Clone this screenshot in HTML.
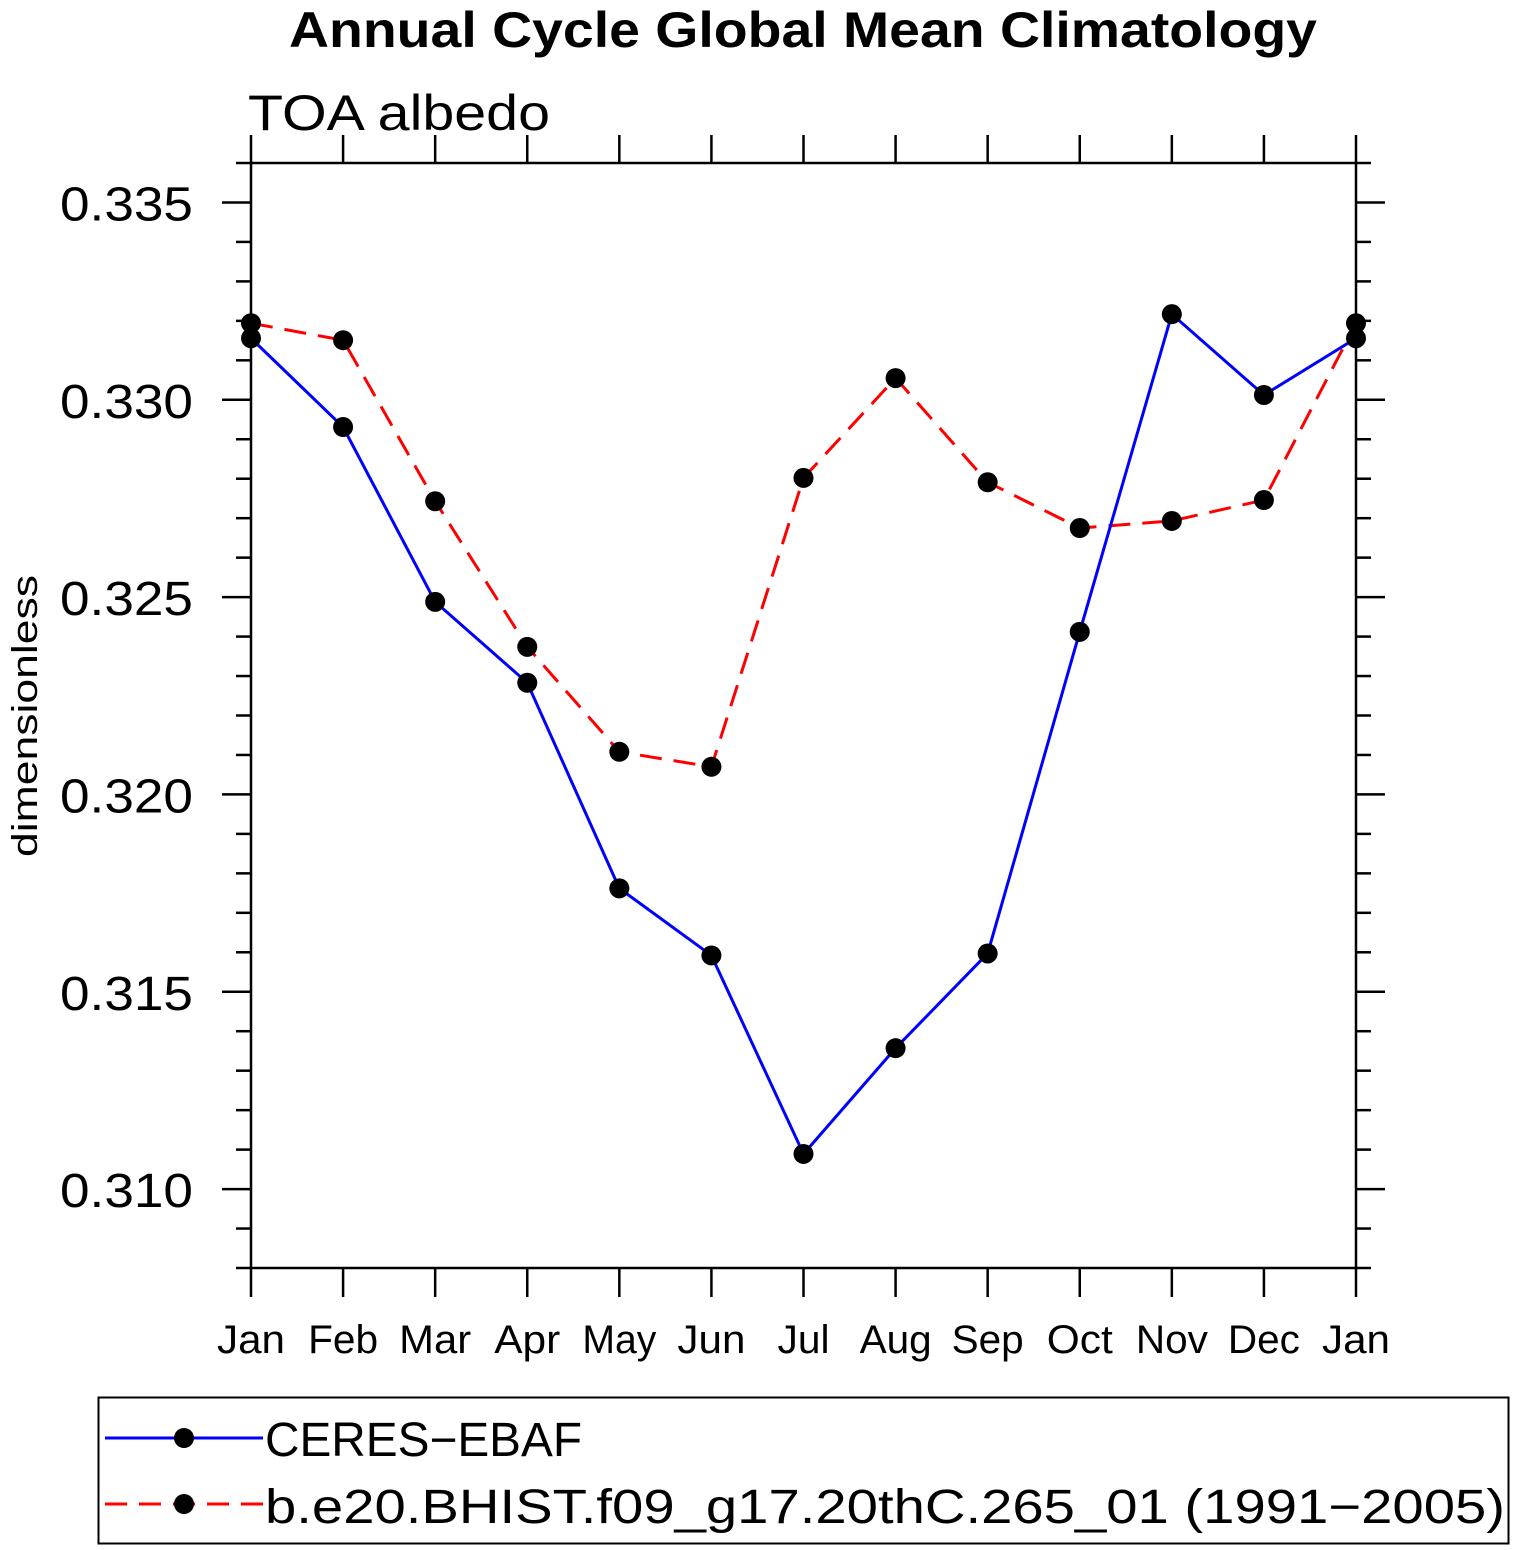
<!DOCTYPE html>
<html><head><meta charset="utf-8"><style>
html,body{margin:0;padding:0;background:#fff;}
svg{display:block;font-family:"Liberation Sans",sans-serif;}
</style></head><body>
<svg id="chart" width="1515" height="1550" viewBox="0 0 1515 1550" xmlns="http://www.w3.org/2000/svg">
<text x="803" y="47" text-anchor="middle" font-weight="bold" font-size="50" textLength="1028" lengthAdjust="spacingAndGlyphs">Annual Cycle Global Mean Climatology</text>
<text x="248" y="130" font-size="50" font-weight="300" textLength="302" lengthAdjust="spacingAndGlyphs">TOA  albedo</text>
<text transform="translate(37,716) rotate(-90)" text-anchor="middle" font-size="36" textLength="282" lengthAdjust="spacingAndGlyphs">dimensionless</text>
<g id="axes"></g>
<g id="series"></g>
<g>
<rect x="98.5" y="1397.5" width="1410" height="146" fill="none" stroke="#000" stroke-width="2"/>
<g>
<line x1="105" y1="1438" x2="263" y2="1438" stroke="#0000ff" stroke-width="3"/>
<circle cx="184" cy="1438" r="10" fill="#000"/>
<text x="265" y="1456" font-size="48" textLength="317" lengthAdjust="spacingAndGlyphs">CERES−EBAF</text>
</g>
<g>
<line x1="105" y1="1504" x2="263" y2="1504" stroke="#ff0000" stroke-width="3" stroke-dasharray="22,12"/>
<circle cx="184" cy="1504" r="10" fill="#000"/>
<text x="265" y="1523" font-size="48" textLength="1240" lengthAdjust="spacingAndGlyphs">b.e20.BHIST.f09_g17.20thC.265_01 (1991−2005)</text>
</g>
</g>
</svg>
<script>
const months = ["Jan","Feb","Mar","Apr","May","Jun","Jul","Aug","Sep","Oct","Nov","Dec","Jan"];
const ceresValues = [0.33156,0.32931,0.32488,0.32283,0.31762,0.31592,0.31089,0.31357,0.31597,0.32412,0.33217,0.33012,0.33156];
const modelValues = [0.33194,0.33151,0.32743,0.32374,0.32108,0.3207,0.32802,0.33055,0.32791,0.32675,0.32693,0.32746,0.33194];
const yTickValues = [0.310,0.315,0.320,0.325,0.330,0.335];
const yTickLabels = ["0.310","0.315","0.320","0.325","0.330","0.335"];
const monthLabelWidths = [68,70,72,66,74,68,52,72,72,66,72,72,68];

const NS="http://www.w3.org/2000/svg";
const L=251,R=1356,T=163,B=1268,yMin=0.308,yMax=0.336;
function xS(i){return L+(R-L)*i/12;}
function yS(v){return B-(v-yMin)/(yMax-yMin)*(B-T);}
function mk(tag,attrs,parent){const e=document.createElementNS(NS,tag);for(const k in attrs)e.setAttribute(k,attrs[k]);parent.appendChild(e);return e;}
const axes=document.getElementById('axes');
const frame=mk('rect',{x:L,y:T,width:R-L,height:B-T,fill:'none',stroke:'#000','stroke-width':2.5},axes);


months.forEach((m,i)=>{
  const x=xS(i);
  const t1=mk('line',{x1:x,y1:B,x2:x,y2:B+29,stroke:'#000','stroke-width':2.5},axes);
  
  
  const t2=mk('line',{x1:x,y1:T,x2:x,y2:T-28,stroke:'#000','stroke-width':2.5},axes);
  
  
  const lb=mk('text',{x:x,y:1353,'text-anchor':'middle','font-size':40,textLength:monthLabelWidths[i],lengthAdjust:'spacingAndGlyphs'},axes);
  lb.textContent=m;
  
  
});
for(let k=0;k<=28;k++){
  const v=yMin+k*0.001;
  const y=yS(v);
  const major=yTickValues.some(t=>Math.abs(t-v)<1e-7);
  const len=major?29:15;
  const a=mk('line',{x1:L-len,y1:y,x2:L,y2:y,stroke:'#000','stroke-width':2.5},axes);
  
  
  const b=mk('line',{x1:R,y1:y,x2:R+len,y2:y,stroke:'#000','stroke-width':2.5},axes);
  
  
}
yTickValues.forEach((v,i)=>{
  const t=mk('text',{x:193,y:yS(v)+18,'text-anchor':'end','font-size':48,textLength:133,lengthAdjust:'spacingAndGlyphs'},axes);
  t.textContent=yTickLabels[i];
  
  
});
const series=document.getElementById('series');
function drawSeries(vals,color,dash,name){
  const g=mk('g',{},series);
  
  
  const pts=vals.map((v,i)=>xS(i)+','+yS(v)).join(' ');
  const pl=mk('polyline',{points:pts,fill:'none',stroke:color,'stroke-width':3,'stroke-dasharray':dash},g);
  
  
  vals.forEach((v,i)=>{
    const c=mk('circle',{cx:xS(i),cy:yS(v),r:10,fill:'#000'},g);
    
    
  });
}
drawSeries(modelValues,'#ff0000','22,12','model-series');
drawSeries(ceresValues,'#0000ff','none','ceres-series');
</script>
</body></html>
